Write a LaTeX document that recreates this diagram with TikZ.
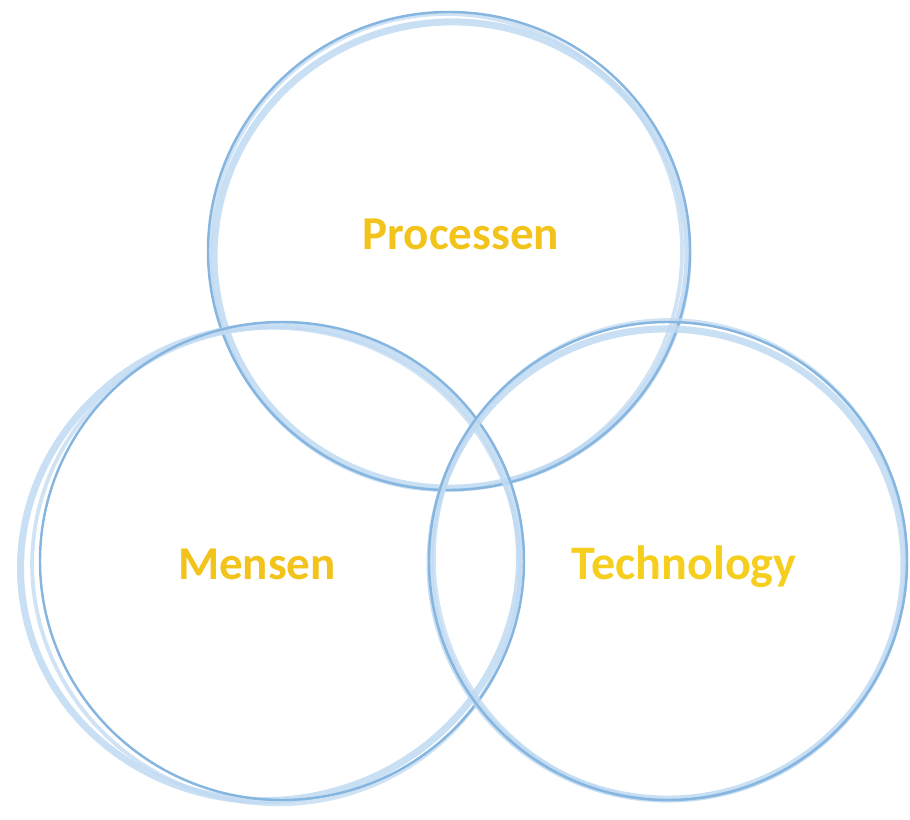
\documentclass[tikz,border=0pt]{standalone}
\usepackage{fontspec}
\setmainfont{Carlito}
\definecolor{ringdark}{HTML}{86B5DF}
\definecolor{ringlight}{HTML}{BFDAF2}
\definecolor{gold}{HTML}{F2C31A}
\definecolor{goldlight}{HTML}{F5CE1E}
\tikzset{
  ringmain/.style={draw=ringdark, line width=1.4pt},
  ringsoft/.style={draw=ringlight, line width=4pt, opacity=0.85},
  ringfaint/.style={draw=ringlight, line width=2.2pt, opacity=0.75},
  label/.style={font=\fontsize{26.8}{30}\selectfont\bfseries, text=gold, inner sep=0pt},
}
\begin{document}
\begin{tikzpicture}[x=0.02cm, y=-0.02cm]
\useasboundingbox (0,0) rectangle (910,820);
% top circle (Processen)
\draw[ringsoft, rotate around={8:(451,255)}] (451,255) ellipse [x radius=237, y radius=233];
\draw[ringfaint, rotate around={-6:(446,252)}] (446,252) ellipse [x radius=236, y radius=238];
\draw[ringmain] (449,251) ellipse [x radius=241, y radius=239];
% left circle (Mensen)
\draw[ringsoft, rotate around={12:(270,563)}] (270,563) ellipse [x radius=250, y radius=237];
\draw[ringfaint, rotate around={-10:(276,566)}] (276,566) ellipse [x radius=244, y radius=238];
\draw[ringmain] (282,561) ellipse [x radius=242, y radius=239];
% right circle (Technology)
\draw[ringsoft, rotate around={-8:(667,564)}] (667,564) ellipse [x radius=237, y radius=235];
\draw[ringfaint, rotate around={10:(670,560)}] (670,560) ellipse [x radius=236, y radius=240];
\draw[ringmain] (668,561) ellipse [x radius=239, y radius=239];
% labels
\node[label, anchor=base] (proc) at (461,250) {Processen};
\node[label, anchor=base] (mens) at (257,580) {Mensen};
\node[label, anchor=base, text=goldlight, font=\fontsize{27.4}{30}\selectfont\bfseries] (tech) at (684,580) {Technology};
\end{tikzpicture}
\end{document}
